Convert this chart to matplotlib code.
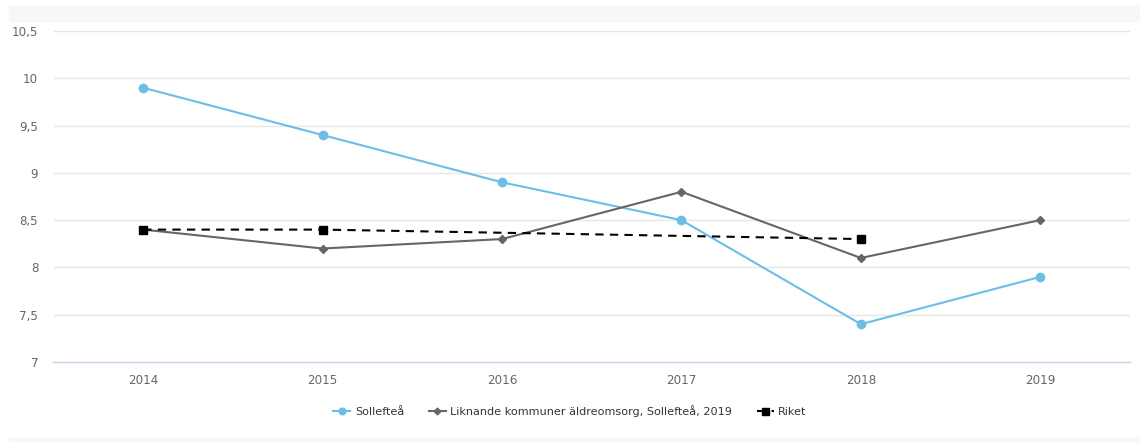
import numpy as np
import matplotlib
matplotlib.use("Agg")
import matplotlib.pyplot as plt
from matplotlib.patches import Rectangle
from matplotlib.ticker import FuncFormatter

years = ["2014", "2015", "2016", "2017", "2018", "2019"]
solleftea = [9.9, 9.4, 8.9, 8.5, 7.4, 7.9]
liknande = [8.4, 8.2, 8.3, 8.8, 8.1, 8.5]
riket = [8.4, 8.4, np.nan, np.nan, 8.3, np.nan]
yticks = [7, 7.5, 8, 8.5, 9, 9.5, 10, 10.5]

plt.rcParams["font.family"] = ["DejaVu Sans"]

W, H = 1140, 442
fig = plt.figure(figsize=(W / 100, H / 100), dpi=100)
fig.patch.set_facecolor("white")

# light header and footer bands
fig.patches.append(Rectangle((9 / W, 1 - 21 / H), (W - 9) / W, 15 / H,
                             transform=fig.transFigure, color="#f7f7f7", zorder=0))
fig.patches.append(Rectangle((9 / W, 0), (W - 9) / W, 4 / H,
                             transform=fig.transFigure, color="#f7f7f7", zorder=0))

left, right = 53.5 / W, 1130 / W
top, bottom = 1 - 31 / H, 1 - 362 / H
ax = fig.add_axes([left, bottom, right - left, top - bottom])
ax.set_facecolor("none")

x = np.arange(len(years))
ax.plot(x, solleftea, color="#6cbee6", lw=1.5, marker="o", ms=6,
        mec="#6cbee6", zorder=3, label="Sollefteå")
ax.plot(x, liknande, color="#666666", lw=1.5, marker="D", ms=4.3,
        mec="#666666", zorder=3, label="Liknande kommuner äldreomsorg, Sollefteå, 2019")
r = np.array(riket)
mask = ~np.isnan(r)
ax.plot(x[mask], r[mask], color="black", lw=1.5, ls=(0, (4, 3)), marker="s", ms=6.3,
        mec="black", zorder=4, label="Riket")

ax.set_xlim(-0.5, len(years) - 0.5)
ax.set_ylim(7, 10.5)
ax.set_yticks(yticks)
ax.yaxis.set_major_formatter(FuncFormatter(lambda v, p: f"{v:g}".replace(".", ",")))
ax.set_xticks(x)
ax.set_xticklabels(years)

ax.grid(axis="y", color="#e6e6e6", lw=1)
ax.set_axisbelow(True)
for s in ["top", "right", "left"]:
    ax.spines[s].set_visible(False)
ax.spines["bottom"].set_color("#ccd6eb")
ax.spines["bottom"].set_linewidth(1)
ax.tick_params(axis="both", length=0, labelsize=8.6, colors="#666666")
ax.tick_params(axis="x", pad=9)
ax.tick_params(axis="y", pad=11)

leg = fig.legend(loc="center", bbox_to_anchor=(0.5, 1 - 411 / H), ncol=3,
                 frameon=False, fontsize=8.1, handlelength=1.5, handletextpad=0.4,
                 columnspacing=2.2, markerscale=0.8)
for t in leg.get_texts():
    t.set_color("#333333")

fig.savefig("out.png", dpi=100)
